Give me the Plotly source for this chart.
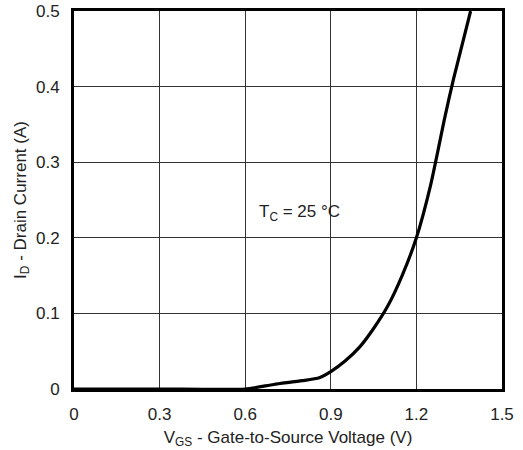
import plotly.graph_objects as go

# Transfer characteristic: drain current vs gate-to-source voltage at Tc = 25 °C
vgs = [0.0, 0.3, 0.6, 0.7, 0.8, 0.86, 0.9, 0.95, 1.0, 1.05, 1.1, 1.15, 1.2, 1.25, 1.3, 1.33, 1.39]
id_a = [0.0, 0.0, 0.0, 0.006, 0.011, 0.015, 0.023, 0.037, 0.055, 0.08, 0.11, 0.15, 0.2, 0.27, 0.36, 0.41, 0.5]

x_ticks = [0, 0.3, 0.6, 0.9, 1.2, 1.5]
x_tick_text = ["0", "0.3", "0.6", "0.9", "1.2", "1.5"]
y_ticks = [0, 0.1, 0.2, 0.3, 0.4, 0.5]
y_tick_text = ["0", "0.1", "0.2", "0.3", "0.4", "0.5"]

font_family = "Liberation Sans, Arial, sans-serif"
text_color = "#222222"

fig = go.Figure()
fig.add_trace(go.Scatter(
    x=vgs, y=id_a, mode="lines",
    line=dict(color="black", width=3.2, shape="spline", smoothing=0.6),
    hoverinfo="skip", showlegend=False, cliponaxis=True,
))

fig.add_annotation(
    x=0.79, y=0.233, xref="x", yref="y",
    text="T<sub>C</sub> = 25 °C", showarrow=False,
    font=dict(family=font_family, size=17, color=text_color),
)

axis_common = dict(
    showgrid=True, gridcolor="#333333", gridwidth=1,
    showline=True, linecolor="black", linewidth=3, mirror=True,
    zeroline=False, ticks="", automargin=False,
    tickfont=dict(family=font_family, size=17, color=text_color),
)

fig.update_xaxes(
    range=[0, 1.5], tickvals=x_ticks, ticktext=x_tick_text,
    ticklabelstandoff=8,
    title=dict(text="V<sub>GS</sub> - Gate-to-Source Voltage (V)",
               font=dict(family=font_family, size=17, color=text_color), standoff=8),
    **axis_common,
)
fig.update_yaxes(
    range=[0, 0.5], tickvals=y_ticks, ticktext=y_tick_text,
    ticklabelstandoff=8,
    title=dict(text="I<sub>D</sub> - Drain Current (A)",
               font=dict(family=font_family, size=17, color=text_color), standoff=6),
    **axis_common,
)

fig.update_layout(
    width=523, height=450,
    margin=dict(l=74, r=21, t=11, b=61),
    plot_bgcolor="white", paper_bgcolor="white",
)

fig.write_html("out.html")
